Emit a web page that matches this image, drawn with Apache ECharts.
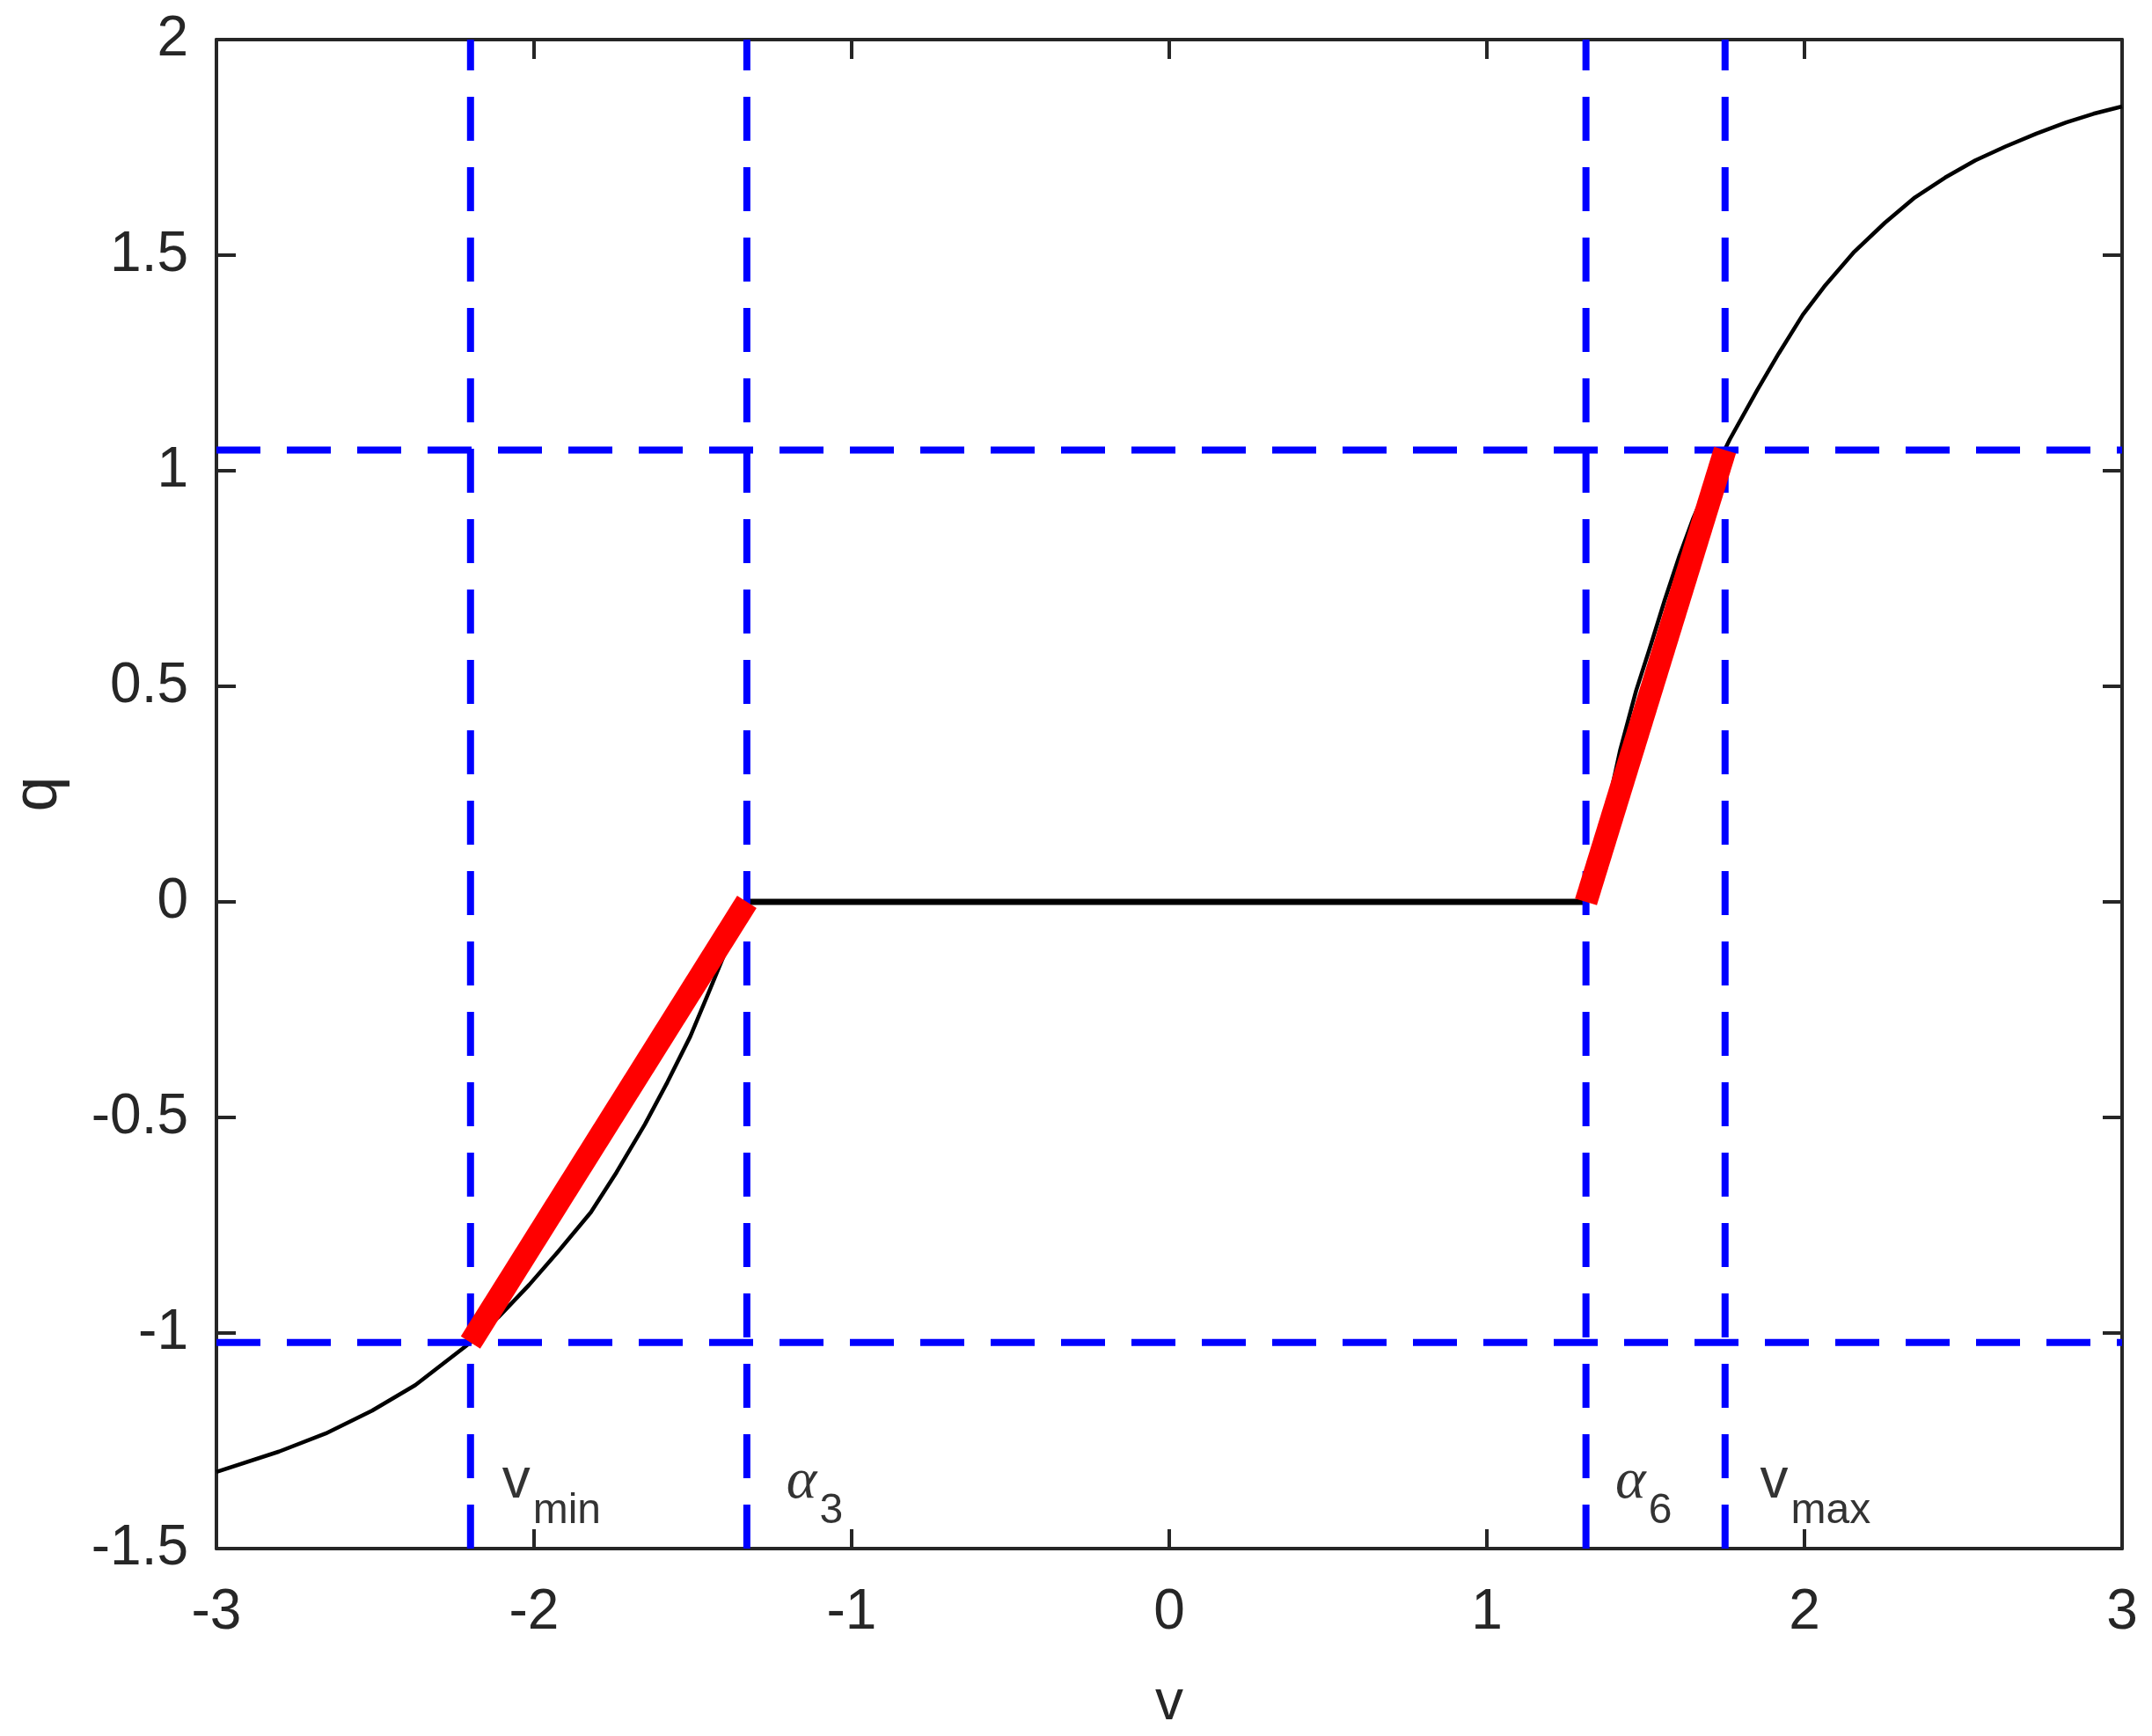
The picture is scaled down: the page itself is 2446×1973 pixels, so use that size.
<!DOCTYPE html>
<html>
<head>
<meta charset="utf-8">
<title>q(v)</title>
<script src="https://cdn.jsdelivr.net/npm/echarts@6/dist/echarts.min.js"></script>
<style>
  html, body { margin: 0; padding: 0; background: #fff; }
  #chart { width: 2446px; height: 1973px; }
</style>
</head>
<body>
<div id="chart"></div>
<script>
// ticks
const xTicks = [-3, -2, -1, 0, 1, 2, 3];
const yTicks = [-1.5, -1, -0.5, 0, 0.5, 1, 1.5, 2];

// black curve q(v) (left branch and right branch)
const leftV = [-3.0, -2.803, -2.656, -2.51, -2.374, -2.2, -2.112, -2.015, -1.923, -1.821, -1.74, -1.651, -1.58, -1.508, -1.45, -1.393, -1.36, -1.33];
const leftQ = [-1.322, -1.275, -1.233, -1.18, -1.121, -1.022, -0.963, -0.888, -0.81, -0.72, -0.627, -0.516, -0.418, -0.312, -0.21, -0.108, -0.045, 0];
const rightV = [1.312, 1.35, 1.385, 1.42, 1.47, 1.517, 1.56, 1.606, 1.65, 1.70, 1.765, 1.852, 1.919, 1.995, 2.062, 2.157, 2.253, 2.348, 2.443, 2.538, 2.633, 2.73, 2.824, 2.91, 3.0];
const rightQ = [0, 0.12, 0.235, 0.353, 0.49, 0.598, 0.70, 0.802, 0.89, 0.975, 1.073, 1.188, 1.272, 1.362, 1.427, 1.508, 1.575, 1.634, 1.68, 1.72, 1.752, 1.782, 1.808, 1.828, 1.845];

// dead zone (thick black) and the two red linear pieces
const alpha3 = -1.33;
const alpha6 = 1.312;
const vMin = -2.2;
const vMax = 1.75;
const qMin = -1.022;
const qMax = 1.048;

// dashed guide lines
const guideV = [vMin, alpha3, alpha6, vMax];
const guideQ = [qMax, qMin];

// text labels near the bottom
const annoX = [-2.102, -1.207, 1.403, 1.859];
const annoY = [-1.372, -1.372, -1.372, -1.372];
const annoMain = ['v', 'α', 'α', 'v'];
const annoSub = ['min', '3', '6', 'max'];

const chart = echarts.init(document.getElementById('chart'));

const axisColor = '#262626';
const sans = 'Liberation Sans, Arial, Helvetica, sans-serif';

const series = [];

// thin curve, two branches
[[leftV, leftQ], [rightV, rightQ]].forEach(([vs, qs]) => {
    series.push({
        type: 'line',
        data: vs.map((v, i) => [v, qs[i]]),
        symbol: 'none',
        smooth: false,
        lineStyle: { color: '#000', width: 4.5, join: 'round' },
        z: 2
    });
});

// thick zero piece
series.push({
    type: 'line',
    data: [[alpha3, 0], [alpha6, 0]],
    symbol: 'none',
    lineStyle: { color: '#000', width: 7 },
    z: 2
});

// vertical dashed lines, drawn bottom to top
guideV.forEach(v => {
    series.push({
        type: 'line',
        data: [[v, yTicks[0]], [v, yTicks[yTicks.length - 1]]],
        symbol: 'none',
        lineStyle: { color: '#0000FF', width: 8, type: [50, 30], cap: 'butt' },
        z: 3
    });
});

// horizontal dashed lines, drawn left to right
guideQ.forEach(q => {
    series.push({
        type: 'line',
        data: [[xTicks[0], q], [xTicks[xTicks.length - 1], q]],
        symbol: 'none',
        lineStyle: { color: '#0000FF', width: 8, type: [50, 30], cap: 'butt' },
        z: 3
    });
});

// red pieces
series.push({
    type: 'line',
    data: [[vMin, qMin], [alpha3, 0]],
    symbol: 'none',
    lineStyle: { color: '#FF0000', width: 26, cap: 'butt' },
    z: 4
});
series.push({
    type: 'line',
    data: [[alpha6, 0], [vMax, qMax]],
    symbol: 'none',
    lineStyle: { color: '#FF0000', width: 26, cap: 'butt' },
    z: 4
});

// labels v_min, alpha_3, alpha_6, v_max
series.push({
    type: 'scatter',
    symbolSize: 1,
    itemStyle: { color: 'rgba(0,0,0,0)' },
    silent: true,
    z: 5,
    data: annoX.map((x, i) => ({
        value: [x, annoY[i]],
        label: {
            show: true,
            position: 'right',
            distance: 0,
            formatter: (annoMain[i] === 'α' ? '{a|α}' : '{m|' + annoMain[i] + '}') + '{s|' + annoSub[i] + '}',
            rich: {
                m: { fontSize: 64, fontFamily: sans, height: 64, color: '#000', verticalAlign: 'top' },
                a: { fontSize: 66, fontFamily: 'Liberation Serif, Times New Roman, serif', fontStyle: 'italic', height: 64, color: '#000', verticalAlign: 'top' },
                s: { fontSize: 48, fontFamily: sans, height: 48, padding: [41, 0, 0, 3], color: '#000', verticalAlign: 'bottom' }
            }
        }
    }))
});

const tickStyle = { show: true, inside: true, length: 22, lineStyle: { color: axisColor, width: 4 } };
const lineStyle = { show: true, onZero: false, lineStyle: { color: axisColor, width: 4 } };

const option = {
    animation: false,
    backgroundColor: '#fff',
    grid: { left: 240, top: 45, width: 2172, height: 1718, containLabel: false },
    xAxis: [
        {
            type: 'value', position: 'bottom',
            min: xTicks[0], max: xTicks[xTicks.length - 1], interval: 1,
            name: 'v', nameLocation: 'middle', nameGap: 144,
            nameTextStyle: { fontSize: 64, fontFamily: sans, color: axisColor },
            axisLine: lineStyle, axisTick: tickStyle,
            axisLabel: { fontSize: 64, fontFamily: sans, color: axisColor, margin: 41 },
            splitLine: { show: false }
        },
        {
            type: 'value', position: 'top',
            min: xTicks[0], max: xTicks[xTicks.length - 1], interval: 1,
            axisLine: lineStyle, axisTick: tickStyle,
            axisLabel: { show: false }, splitLine: { show: false }
        }
    ],
    yAxis: [
        {
            type: 'value', position: 'left',
            min: yTicks[0], max: yTicks[yTicks.length - 1], interval: 0.5,
            name: 'q', nameLocation: 'middle', nameGap: 166, nameRotate: 90,
            nameTextStyle: { fontSize: 72, fontFamily: sans, color: axisColor },
            axisLine: lineStyle, axisTick: tickStyle,
            axisLabel: { fontSize: 64, fontFamily: sans, color: axisColor, margin: 32 },
            splitLine: { show: false }
        },
        {
            type: 'value', position: 'right',
            min: yTicks[0], max: yTicks[yTicks.length - 1], interval: 0.5,
            axisLine: lineStyle, axisTick: tickStyle,
            axisLabel: { show: false }, splitLine: { show: false }
        }
    ],
    series: series
};

chart.setOption(option);
</script>
</body>
</html>
